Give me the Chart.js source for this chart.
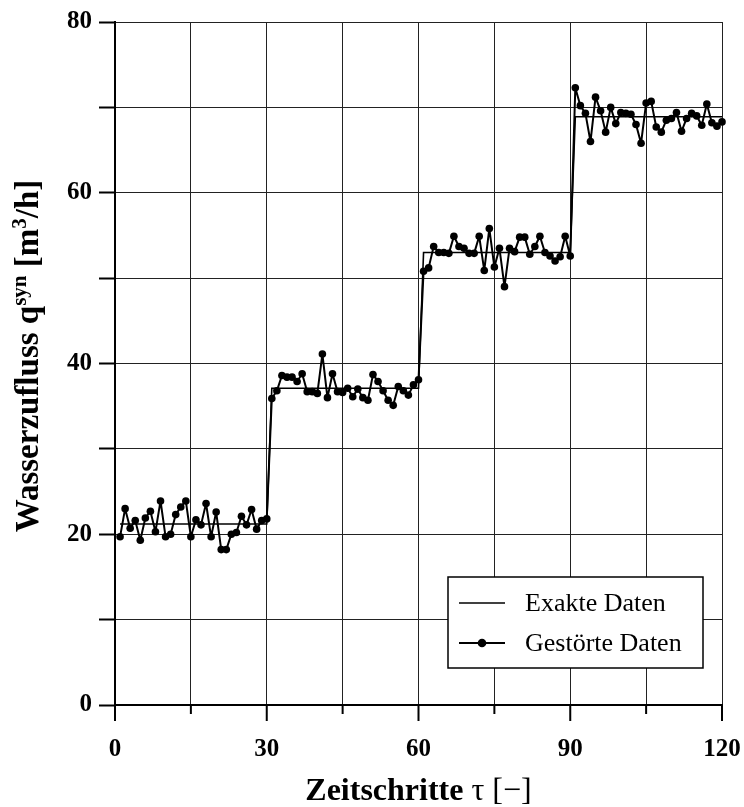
<!DOCTYPE html>
<html>
<head>
<meta charset="utf-8">
<script src="https://cdn.jsdelivr.net/npm/chart.js@4/dist/chart.umd.min.js"></script>
<style>
    body { margin: 0; background: #fff; }
    canvas { display: block; }
</style>
</head>
<body>
<canvas id="zuflussChart" width="744" height="807"></canvas>
<script>
// Zeitschritte 1..120
var timeSteps = Array.from({ length: 120 }, (_, i) => i + 1);

// gestoerte (verrauschte) Zuflussdaten, m3/h
var disturbedFlow = [
    19.7, 23.0, 20.7, 21.6, 19.3, 21.9, 22.7, 20.3, 23.9, 19.7,
    20.0, 22.3, 23.2, 23.9, 19.7, 21.7, 21.1, 23.6, 19.7, 22.6,
    18.2, 18.2, 20.0, 20.2, 22.1, 21.1, 22.9, 20.6, 21.6, 21.8,
    35.9, 36.8, 38.6, 38.4, 38.4, 37.9, 38.8, 36.7, 36.7, 36.5,
    41.1, 36.0, 38.8, 36.7, 36.6, 37.1, 36.1, 37.0, 36.0, 35.7,
    38.7, 37.9, 36.8, 35.7, 35.1, 37.3, 36.8, 36.3, 37.5, 38.1,
    50.8, 51.2, 53.7, 53.0, 53.0, 52.9, 54.9, 53.7, 53.5, 52.9,
    52.9, 54.9, 50.9, 55.8, 51.3, 53.5, 49.0, 53.5, 53.1, 54.8,
    54.8, 52.8, 53.7, 54.9, 53.0, 52.6, 52.0, 52.5, 54.9, 52.6,
    72.3, 70.2, 69.3, 66.0, 71.2, 69.6, 67.1, 70.0, 68.1, 69.4,
    69.3, 69.2, 68.0, 65.8, 70.5, 70.7, 67.7, 67.1, 68.5, 68.7,
    69.4, 67.2, 68.7, 69.3, 69.0, 67.9, 70.4, 68.2, 67.8, 68.3
];

// exakte Daten: Stufenfunktion (Eckpunkte)
var exactSteps = [1, 30, 31, 60, 61, 90, 91, 120];
var exactFlow = [21.2, 21.2, 37.1, 37.1, 53.0, 53.0, 68.9, 68.9];

var xMin = 0, xMax = 120, xStep = 15, xLabelStep = 30;
var yMin = 0, yMax = 80, yStep = 10, yLabelStep = 20;

var serif = '"Liberation Serif", "Times New Roman", serif';

// Text aus mehreren Teilen (Font, Hochstellung) zeichnen, zentriert um x=0
function drawRuns(ctx, runs) {
    var total = 0;
    runs.forEach(function (r) {
        ctx.font = r.font;
        total += ctx.measureText(r.text).width;
    });
    var x = -total / 2;
    runs.forEach(function (r) {
        ctx.font = r.font;
        ctx.fillText(r.text, x, r.rise ? -r.rise : 0);
        x += ctx.measureText(r.text).width;
    });
}

var decorPlugin = {
    id: 'decor',
    afterDraw: function (chart) {
        var ctx = chart.ctx;
        var xs = chart.scales.x;
        var area = chart.chartArea;

        ctx.save();
        ctx.strokeStyle = '#000';
        ctx.fillStyle = '#000';

        // x-Achse: lange Striche an beschrifteten Werten, kurze dazwischen
        ctx.lineWidth = 2;
        xs.ticks.forEach(function (t) {
            var px = xs.getPixelForValue(t.value);
            var len = (t.value % xLabelStep === 0) ? 16 : 9;
            ctx.beginPath();
            ctx.moveTo(px, area.bottom);
            ctx.lineTo(px, area.bottom + len);
            ctx.stroke();
        });

        ctx.textAlign = 'left';
        ctx.textBaseline = 'alphabetic';

        // Achsentitel x
        ctx.save();
        ctx.translate((area.left + area.right) / 2, 800);
        drawRuns(ctx, [
            { text: 'Zeitschritte ', font: 'bold 32px ' + serif },
            { text: 'τ [−]', font: '32px ' + serif }
        ]);
        ctx.restore();

        // Achsentitel y
        ctx.save();
        ctx.translate(38, 356);
        ctx.rotate(-Math.PI / 2);
        drawRuns(ctx, [
            { text: 'Wasserzufluss q', font: 'bold 33px ' + serif },
            { text: 'syn', font: 'bold 21px ' + serif, rise: 12 },
            { text: ' [m', font: 'bold 33px ' + serif },
            { text: '3', font: 'bold 21px ' + serif, rise: 12 },
            { text: '/h]', font: 'bold 33px ' + serif }
        ]);
        ctx.restore();

        // Legende
        var bx = 448, by = 577, bw = 255, bh = 91;
        ctx.fillStyle = '#fff';
        ctx.fillRect(bx, by, bw, bh);
        ctx.lineWidth = 1.5;
        ctx.strokeRect(bx, by, bw, bh);

        var ds = chart.data.datasets;
        var rows = [by + 26, by + 66];
        ctx.fillStyle = '#000';
        ctx.font = '26px ' + serif;
        ctx.textBaseline = 'middle';
        ds.forEach(function (d, i) {
            var y = rows[i];
            ctx.lineWidth = d.borderWidth;
            ctx.beginPath();
            ctx.moveTo(bx + 11, y);
            ctx.lineTo(bx + 57, y);
            ctx.stroke();
            if (d.pointRadius > 0) {
                ctx.beginPath();
                ctx.arc(bx + 34, y, d.pointRadius + 0.5, 0, Math.PI * 2);
                ctx.fill();
            }
            ctx.fillText(d.label, bx + 77, y + 1);
        });

        ctx.restore();
    }
};

var ctx = document.getElementById('zuflussChart').getContext('2d');
var zuflussChart = new Chart(ctx, {
    type: 'line',
    data: {
        datasets: [{
            label: 'Exakte Daten',
            data: exactSteps.map((t, i) => ({ x: t, y: exactFlow[i] })),
            borderColor: '#000',
            borderWidth: 1.6,
            pointRadius: 0,
            fill: false,
            tension: 0,
            clip: false
        }, {
            label: 'Gestörte Daten',
            data: timeSteps.map((t, i) => ({ x: t, y: disturbedFlow[i] })),
            borderColor: '#000',
            backgroundColor: '#000',
            borderWidth: 2,
            borderJoinStyle: 'round',
            pointRadius: 3.8,
            pointBackgroundColor: '#000',
            pointBorderWidth: 0,
            fill: false,
            tension: 0,
            clip: false
        }]
    },
    options: {
        responsive: false,
        animation: false,
        layout: {
            padding: { top: 22, right: 22, left: 0, bottom: 0 }
        },
        plugins: {
            legend: { display: false },
            tooltip: { enabled: false },
            title: { display: false }
        },
        scales: {
            x: {
                type: 'linear',
                min: xMin,
                max: xMax,
                afterFit: function (scale) {
                    scale.height = 102;
                    scale.paddingLeft = 0;
                    scale.paddingRight = 0;
                },
                border: { color: '#000', width: 2 },
                grid: {
                    color: '#222',
                    lineWidth: 1,
                    drawTicks: false
                },
                ticks: {
                    stepSize: xStep,
                    autoSkip: false,
                    maxRotation: 0,
                    padding: 30,
                    color: '#000',
                    font: { family: serif, size: 25, weight: 'bold' },
                    callback: function (value) {
                        return value % xLabelStep === 0 ? value : '';
                    }
                }
            },
            y: {
                min: yMin,
                max: yMax,
                afterFit: function (scale) {
                    scale.width = 115;
                    scale.paddingTop = 0;
                    scale.paddingBottom = 0;
                },
                border: { color: '#000', width: 2 },
                grid: {
                    color: '#222',
                    lineWidth: 1,
                    tickLength: 16,
                    tickColor: '#000',
                    tickWidth: 2
                },
                ticks: {
                    stepSize: yStep,
                    autoSkip: false,
                    padding: 7,
                    color: '#000',
                    font: { family: serif, size: 25, weight: 'bold' },
                    callback: function (value) {
                        return value % yLabelStep === 0 ? value : '';
                    }
                }
            }
        }
    },
    plugins: [decorPlugin]
});
</script>
</body>
</html>
